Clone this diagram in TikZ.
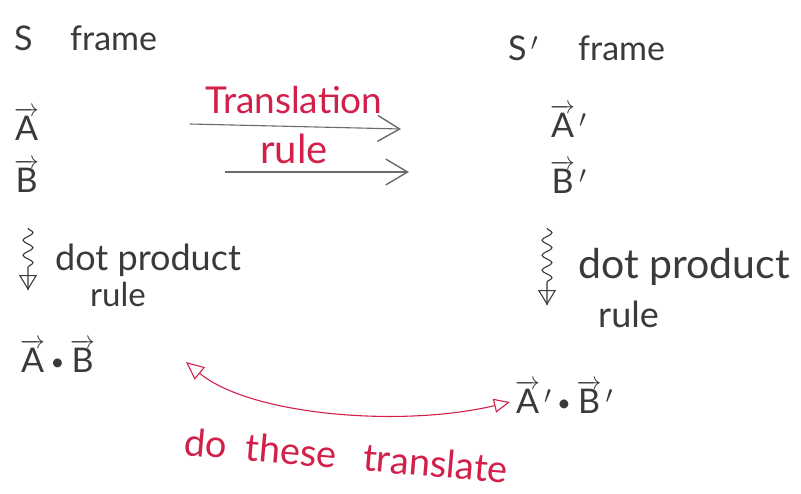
\documentclass[tikz,border=0pt]{standalone}
\usepackage{fontspec}
\usepackage{graphicx}
\setmainfont{Lato}
\usetikzlibrary{arrows.meta,decorations.pathmorphing}
\definecolor{ink}{HTML}{3A3A3A}
\definecolor{redink}{HTML}{D2204A}
\newcommand\vv[1]{$\overrightarrow{\mbox{#1}}$}
\newcommand\fs[1]{\fontsize{#1}{#1}\selectfont}
\newcommand\dotop{\,\raisebox{0.05em}{\scalebox{0.7}{\textbullet}}\,}
\tikzset{
  txt/.style={anchor=base west, inner sep=0pt, text=ink, font=\fs{34}},
  redtxt/.style={anchor=base west, inner sep=0pt, text=redink, font=\fs{37}},
  grayarrow/.style={draw=ink!75, line width=1.1pt, -{Straight Barb[length=22pt,width=26pt,line width=1.4pt]}},
  squig/.style={draw=ink, line width=1.1pt, decorate, decoration={snake, amplitude=5pt, segment length=15pt, post length=16pt}},
  squighead/.style={draw=ink, line width=1.1pt, -{Triangle[open,length=15pt,width=18pt]}},
  redarrow/.style={draw=redink, line width=1.1pt, {Triangle[open,length=18pt,width=16pt]}-{Triangle[open,length=16pt,width=14pt]}}
}
\begin{document}
\begin{tikzpicture}[x=1pt,y=-1pt]
\useasboundingbox[fill=white] (0,0) rectangle (801,493);
% headers
\node[txt] (S) at (14,50) {S};
\node[txt] (fr) at (70,50) {frame};
\node[txt] (Sp) at (508,60) {S$\,'$};
\node[txt] (frp) at (578,60) {frame};
% vectors
\node[txt] (A) at (14,140) {\vv{A}};
\node[txt] (B) at (14,192) {\vv{B}};
\node[txt] (Ap) at (550,137) {\vv{A}$\,'$};
\node[txt] (Bp) at (550,193) {\vv{B}$\,'$};
% translation rule
\node[redtxt] (tr) at (205,113) {Translation};
\node[redtxt, font=\fs{40}] (ru) at (260,163) {rule};
\coordinate (a1s) at (190,124);
\coordinate (a1e) at (401,129);
\coordinate (a2s) at (225,172);
\coordinate (a2e) at (409,172);
\draw[grayarrow] (a1s) -- (a1e);
\draw[grayarrow] (a2s) -- (a2e);
% dot product rules
\node[txt, font=\fs{36}] (dp) at (55,270) {dot product};
\node[txt, font=\fs{33}] (r1) at (90,306) {rule};
\coordinate (s1a) at (28,228);
\coordinate (s1b) at (28,290);
\draw[squig] (s1a) -- (s1b);
\draw[squighead] (28,275) -- (s1b);
\node[txt, font=\fs{41}] (dp2) at (578,278) {dot product};
\node[txt, font=\fs{36}] (r2) at (598,327) {rule};
\coordinate (s2a) at (547,228);
\coordinate (s2b) at (547,305);
\draw[squig] (s2a) -- (s2b);
\draw[squighead] (547,290) -- (s2b);
% dot products
\node[txt] (AB) at (20,372) {\vv{A}\dotop\vv{B}};
\node[txt] (ApBp) at (515,413) {\vv{A}$\,'$\dotop\vv{B}$\,'$};
% red double arrow
\coordinate (d1) at (186,362);
\coordinate (d2) at (510,402);
\draw[redarrow] (d1) .. controls (250,415) and (400,428) .. (d2);
\node[redtxt, font=\fs{38}, rotate=-5] (q) at (183,455) {do\hspace{0.5em}these\hspace{0.7em}translate};
\end{tikzpicture}
\end{document}
